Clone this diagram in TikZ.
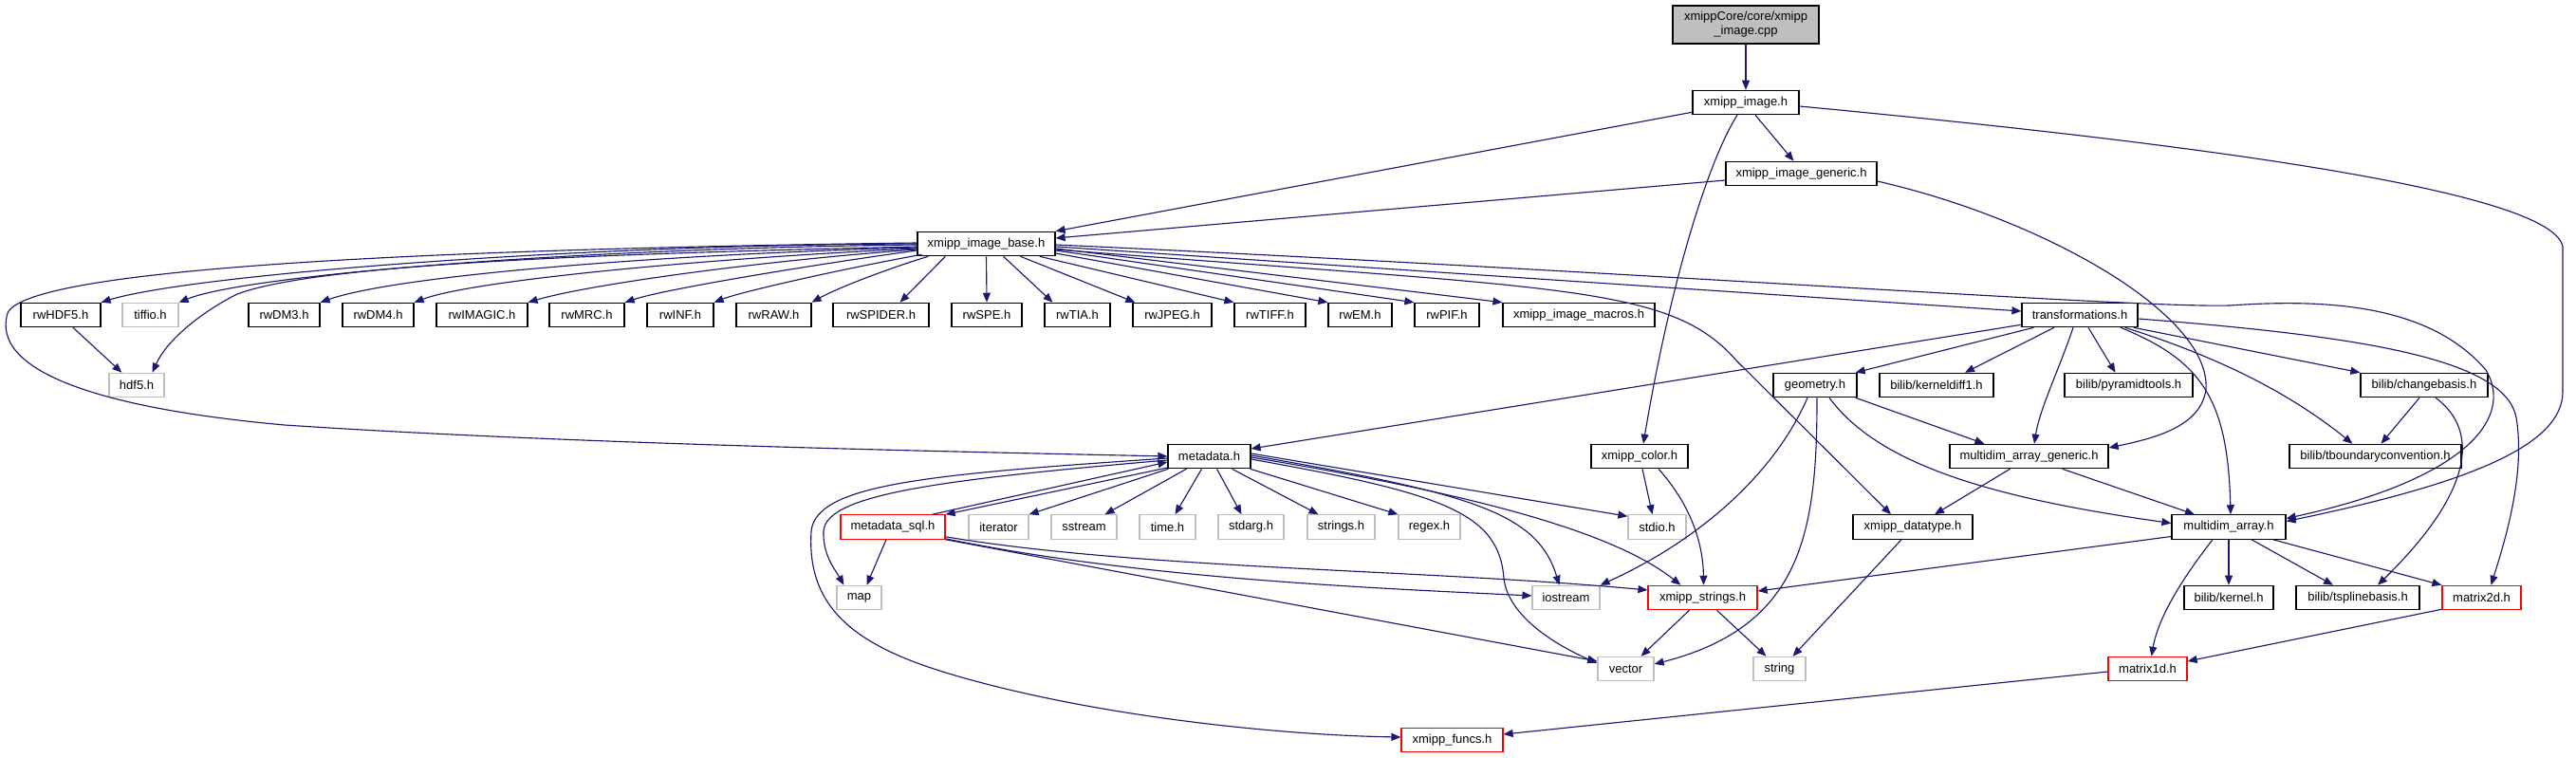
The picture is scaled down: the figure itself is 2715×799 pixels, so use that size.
\documentclass[tikz,border=0pt]{standalone}
\usepackage{fontspec}
\setmainfont{Liberation Sans}
\usetikzlibrary{arrows.meta,calc}
\definecolor{edgeblue}{HTML}{191970}
\definecolor{boxgray}{HTML}{BFBFBF}
\definecolor{boxred}{HTML}{FF0000}
\tikzset{
  nb/.style={draw=black, fill=white, line width=0.9pt, minimum height=19pt, inner sep=0pt,
    font=\fontsize{9.75}{11.25}\selectfont},
  gb/.style={nb, draw=boxgray},
  rb/.style={nb, draw=boxred},
  bw/.style={minimum width=#1*0.75pt},
  edge/.style={draw=edgeblue, line width=0.85pt, -{Triangle[length=7.5pt,width=6pt]}},
}
\begin{document}
\begin{tikzpicture}[x=0.75pt,y=-0.75pt]
\useasboundingbox (0,0) rectangle (2715,799);
% nodes
\node[nb, bw=154, minimum height=30pt, align=center, fill=boxgray] (cpp) at (1840,26) {xmippCore/core/xmipp\\\_image.cpp};
\node[nb, bw=112] (ximg) at (1840,108) {xmipp\_image.h};
\node[nb, bw=159] (xgen) at (1898.5,183) {xmipp\_image\_generic.h};
\node[nb, bw=145] (base) at (1039.5,257) {xmipp\_image\_base.h};
\node[nb, bw=84] (rwHDF5) at (64,332) {rwHDF5.h};
\node[gb, bw=59] (tiffio) at (158.5,332) {tiffio.h};
\node[nb, bw=75] (rwDM3) at (299.5,332) {rwDM3.h};
\node[nb, bw=75] (rwDM4) at (398.5,332) {rwDM4.h};
\node[nb, bw=96] (rwIMAGIC) at (508,332) {rwIMAGIC.h};
\node[nb, bw=79] (rwMRC) at (618.5,332) {rwMRC.h};
\node[nb, bw=70] (rwINF) at (717,332) {rwINF.h};
\node[nb, bw=79] (rwRAW) at (815.5,332) {rwRAW.h};
\node[nb, bw=101] (rwSPIDER) at (928.5,332) {rwSPIDER.h};
\node[nb, bw=74] (rwSPE) at (1040,332) {rwSPE.h};
\node[nb, bw=69] (rwTIA) at (1135.5,332) {rwTIA.h};
\node[nb, bw=83] (rwJPEG) at (1235.5,332) {rwJPEG.h};
\node[nb, bw=75] (rwTIFF) at (1338.5,332) {rwTIFF.h};
\node[nb, bw=67] (rwEM) at (1433.5,332) {rwEM.h};
\node[nb, bw=68] (rwPIF) at (1525,332) {rwPIF.h};
\node[nb, bw=160] (macros) at (1664,332) {xmipp\_image\_macros.h};
\node[nb, bw=122] (trans) at (2192,332) {transformations.h};
\node[gb, bw=58] (hdf5) at (144,406) {hdf5.h};
\node[nb, bw=88] (geom) at (1913,406) {geometry.h};
\node[nb, bw=120] (kd) at (2041,406) {bilib/kerneldiff1.h};
\node[nb, bw=135] (pyr) at (2243.5,406) {bilib/pyramidtools.h};
\node[nb, bw=134] (cb) at (2555,406) {bilib/changebasis.h};
\node[nb, bw=87] (md) at (1274.5,481) {metadata.h};
\node[nb, bw=102] (xcol) at (1728,481) {xmipp\_color.h};
\node[nb, bw=167] (mdag) at (2138.5,481) {multidim\_array\_generic.h};
\node[nb, bw=181] (tb) at (2503.5,481) {bilib/tboundaryconvention.h};
\node[rb, bw=110] (sql) at (941,555.5) {metadata\_sql.h};
\node[gb, bw=63] (iter) at (1052.5,555.5) {iterator};
\node[gb, bw=69] (sst) at (1142.5,555.5) {sstream};
\node[gb, bw=59] (time) at (1230.5,555.5) {time.h};
\node[gb, bw=69] (stdarg) at (1318.5,555.5) {stdarg.h};
\node[gb, bw=71] (strs) at (1413.5,555.5) {strings.h};
\node[gb, bw=65] (regex) at (1506.5,555.5) {regex.h};
\node[gb, bw=61] (stdio) at (1746.5,555.5) {stdio.h};
\node[nb, bw=126] (xdt) at (2016,555.5) {xmipp\_datatype.h};
\node[nb, bw=120] (mda) at (2349,555.5) {multidim\_array.h};
\node[gb, bw=47] (map) at (905.5,630) {map};
\node[gb, bw=71] (ios) at (1650.5,630) {iostream};
\node[rb, bw=115] (xstr) at (1794.5,630) {xmipp\_strings.h};
\node[nb, bw=94] (kern) at (2349,630) {bilib/kernel.h};
\node[nb, bw=130] (tsp) at (2485,630) {bilib/tsplinebasis.h};
\node[rb, bw=83] (m2d) at (2615.5,630) {matrix2d.h};
\node[gb, bw=59] (vec) at (1713.5,705) {vector};
\node[gb, bw=55] (str) at (1875.5,705) {string};
\node[rb, bw=83] (m1d) at (2263.5,705) {matrix1d.h};
\node[rb, bw=107] (funcs) at (1530.5,780) {xmipp\_funcs.h};
% edges: top
\draw[edge] (cpp.south) -- (ximg.north);
\draw[edge] ($(ximg.south)+(10,0)$) -- ($(xgen.north)+(-8,0)$);
\draw[edge] ($(ximg.south west)+(0,-3)$) -- (base.north east);
\draw[edge] ($(xgen.west)+(0,7)$) -- ($(base.east)+(0,-6)$);
\draw[edge] ($(ximg.south)+(-9,0)$) .. controls (1800,170) and (1760,300) .. ($(xcol.north)+(4,0)$);
\draw[edge] ($(ximg.east)+(0,4)$) .. controls (2300,150) and (2690,200) .. (2701,260) -- (2701,413) .. controls (2701,470) and (2600,510) .. ($(mda.east)+(0,-6)$);
\draw[edge] ($(xgen.east)+(0,8)$) .. controls (2150,230) and (2330,330) .. (2325,410) .. controls (2320,450) and (2270,462) .. ($(mdag.east)+(0,-9)$);
% edges: base
\draw[edge] (base.west) .. controls (600,258) and (200,290) .. (rwHDF5.north east);
\draw[edge] ($(base.west)+(0,1)$) .. controls (600,262) and (260,290) .. (tiffio.north east);
\draw[edge] ($(base.west)+(0,3)$) .. controls (600,268) and (330,280) .. (250,310) .. controls (210,330) and (175,360) .. ($(hdf5.north east)+(-13,0)$);
\draw[edge] ($(base.west)+(0,4)$) .. controls (700,268) and (420,290) .. (rwDM3.north east);
\draw[edge] ($(base.west)+(0,5)$) .. controls (750,272) and (500,295) .. (rwDM4.north east);
\draw[edge] ($(base.west)+(0,6)$) .. controls (800,275) and (620,300) .. (rwIMAGIC.north east);
\draw[edge] ($(base.west)+(0,7)$) .. controls (850,280) and (700,305) .. (rwMRC.north east);
\draw[edge] ($(base.south west)+(5,-2)$) .. controls (880,285) and (780,308) .. (rwINF.north east);
\draw[edge] ($(base.south west)+(12,0)$) .. controls (930,285) and (880,305) .. (rwRAW.north east);
\draw[edge] ($(base.south west)+(30,0)$) -- ($(rwSPIDER.north)+(20,0)$);
\draw[edge] (base.south) -- (rwSPE.north);
\draw[edge] ($(base.south)+(18,0)$) -- ($(rwTIA.north)+(-26,0)$);
\draw[edge] ($(base.south)+(36,0)$) -- ($(rwJPEG.north west)+(3,0)$);
\draw[edge] ($(base.south east)+(-17,0)$) -- (rwTIFF.north west);
\draw[edge] ($(base.east)+(0,10)$) -- (rwEM.north west);
\draw[edge] ($(base.east)+(0,7)$) -- (rwPIF.north west);
\draw[edge] ($(base.east)+(0,5)$) -- (macros.north west);
\draw[edge] ($(base.east)+(0,3)$) -- ($(trans.west)+(0,-4)$);
\draw[edge] ($(base.east)+(0,6)$) .. controls (1650,305) and (1760,300) .. (1830,380) -- ($(xdt.north)+(-23,0)$);
\draw[edge] ($(base.east)+(0,1)$) .. controls (1700,285) and (2250,325) .. (2350,322) .. controls (2450,315) and (2560,320) .. (2620,390) .. controls (2650,440) and (2600,505) .. ($(mda.east)+(0,-9)$);
\draw[edge] ($(base.west)+(0,-1)$) .. controls (500,262) and (30,280) .. (8,330) .. controls (-10,390) and (100,430) .. (300,448) .. controls (600,468) and (1000,476) .. (md.west);
\draw[edge] ($(rwHDF5.south)+(13,0)$) -- ($(hdf5.north west)+(14,0)$);
% edges: transformations
\draw[edge] ($(trans.south west)+(0,-3)$) -- ($(md.east)+(0,-8)$);
\draw[edge] ($(trans.south west)+(13,0)$) -- ($(geom.north east)+(-2,0)$);
\draw[edge] ($(trans.south)+(-27,0)$) -- ($(kd.north)+(30,0)$);
\draw[edge] ($(trans.south)+(-7,0)$) .. controls (2170,390) and (2150,430) .. ($(mdag.north)+(5.5,0)$);
\draw[edge] ($(trans.south)+(9,0)$) -- ($(pyr.north)+(-14,0)$);
\draw[edge] ($(trans.south)+(43,0)$) .. controls (2320,380) and (2348,420) .. ($(mda.north)+(2,0)$);
\draw[edge] ($(trans.south east)+(-14,0)$) .. controls (2350,380) and (2420,420) .. ($(tb.north)+(-24,0)$);
\draw[edge] ($(trans.south east)+(-5,0)$) -- (cb.north west);
\draw[edge] ($(trans.east)+(0,4)$) .. controls (2500,355) and (2640,380) .. (2652,440) .. controls (2662,500) and (2640,570) .. ($(m2d.north)+(10,0)$);
\draw[edge] ($(cb.south)+(-5,0)$) -- ($(tb.north)+(6,0)$);
\draw[edge] ($(cb.south)+(12,0)$) .. controls (2615,455) and (2605,520) .. ($(tsp.north)+(21,0)$);
% edges: geometry
\draw[edge] ($(geom.south)+(-8,0)$) .. controls (1870,500) and (1790,570) .. (ios.north east);
\draw[edge] ($(geom.south)+(2,0)$) .. controls (1915,560) and (1900,660) .. ($(vec.east)+(0,-5)$);
\draw[edge] ($(geom.south)+(15,0)$) .. controls (1980,490) and (2100,525) .. ($(mda.west)+(0,-4)$);
\draw[edge] ($(geom.south east)+(-2,0)$) -- ($(mdag.north west)+(37,0)$);
% edges: multidim
\draw[edge] ($(mdag.south)+(-20,0)$) -- ($(xdt.north)+(23,0)$);
\draw[edge] ($(mdag.south)+(35,0)$) -- ($(mda.north)+(-36,0)$);
\draw[edge] ($(xdt.south)+(-12,0)$) -- ($(str.north)+(14,0)$);
\draw[edge] ($(mda.west)+(0,10)$) -- ($(xstr.east)+(0,-7)$);
\draw[edge] ($(mda.south)+(-17,0)$) .. controls (2300,610) and (2275,650) .. ($(m1d.north)+(4,0)$);
\draw[edge] (mda.south) -- (kern.north);
\draw[edge] ($(mda.south)+(24,0)$) -- ($(tsp.north)+(-26,0)$);
\draw[edge] ($(mda.south east)+(-14,0)$) -- (m2d.north west);
\draw[edge] ($(m2d.south west)+(0,-1)$) -- ($(m1d.east)+(0,-8)$);
\draw[edge] ($(m1d.west)+(0,3)$) -- ($(funcs.east)+(0,-6)$);
% edges: strings, color
\draw[edge] ($(xstr.south)+(-14,0)$) -- ($(vec.north)+(16,0)$);
\draw[edge] ($(xstr.south)+(15,0)$) -- ($(str.north)+(-14,0)$);
\draw[edge] ($(xcol.south)+(3,0)$) -- ($(stdio.north)+(-5,0)$);
\draw[edge] ($(xcol.south)+(20,0)$) .. controls (1780,530) and (1795,570) .. ($(xstr.north)+(1,0)$);
% edges: metadata
\draw[edge] ($(md.south west)+(1,0)$) -- (iter.north east);
\draw[edge] ($(md.south)+(-24,0)$) -- ($(sst.north)+(22,0)$);
\draw[edge] ($(md.south)+(-8,0)$) -- ($(time.north)+(8,0)$);
\draw[edge] ($(md.south)+(8,0)$) -- ($(stdarg.north)+(-10,0)$);
\draw[edge] ($(md.south)+(24,0)$) -- ($(strs.north)+(-24,0)$);
\draw[edge] ($(md.south east)+(-1,0)$) -- (regex.north west);
\draw[edge] ($(md.east)+(0,-3)$) -- ($(stdio.north west)+(0,2)$);
\draw[edge] ($(md.east)+(0,-1)$) .. controls (1550,520) and (1620,540) .. ($(ios.north)+(-7,0)$);
\draw[edge] ($(md.east)+(0,1)$) .. controls (1550,520) and (1700,560) .. ($(xstr.north west)+(35,0)$);
\draw[edge] ($(md.east)+(0,3)$) .. controls (1520,520) and (1580,540) .. (1585,610) .. controls (1590,650) and (1640,680) .. ($(vec.west)+(0,-6)$);
\draw[edge] ($(md.west)+(0,12)$) -- (sql.north east);
\draw[edge] ($(sql.north east)+(-14,0)$) -- ($(md.west)+(0,6)$);
\draw[edge] ($(md.west)+(0,4)$) .. controls (1000,505) and (870,520) .. (868,560) .. controls (867,585) and (880,600) .. ($(map.north west)+(8,0)$);
\draw[edge] ($(md.west)+(0,2)$) .. controls (980,500) and (860,510) .. (855,560) .. controls (850,640) and (900,680) .. (1000,710) .. controls (1150,755) and (1350,775) .. ($(funcs.west)+(0,-3)$);
% edges: metadata_sql
\draw[edge] ($(sql.south)+(-7,0)$) -- ($(map.north)+(8,0)$);
\draw[edge] ($(sql.south east)+(0,-1)$) .. controls (1200,610) and (1450,620) .. ($(ios.west)+(0,-2)$);
\draw[edge] ($(sql.south east)+(0,-3)$) .. controls (1200,600) and (1500,600) .. ($(xstr.west)+(0,-8)$);
\draw[edge] (sql.south east) -- ($(vec.west)+(0,-8)$);
\end{tikzpicture}
\end{document}
